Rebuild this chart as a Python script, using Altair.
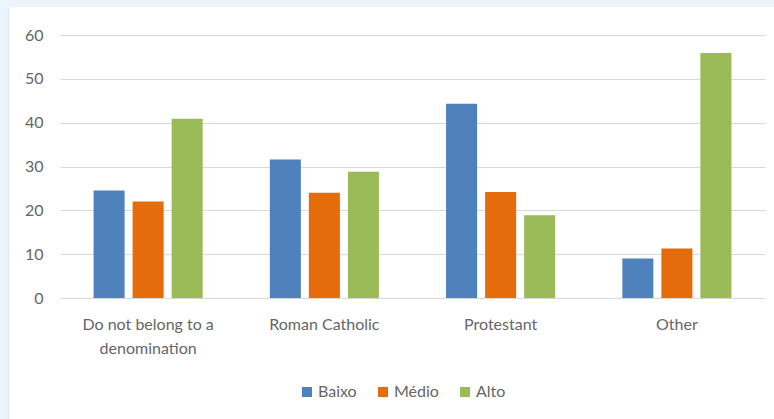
import altair as alt
import pandas as pd

categories = ["Do not belong to a denomination", "Roman Catholic", "Protestant", "Other"]
series = ["Baixo", "Médio", "Alto"]
baixo = [24.5, 31.6, 44.3, 9.0]
medio = [22.0, 24.0, 24.2, 11.3]
alto = [40.9, 28.8, 18.9, 55.9]
colors = ["#4F81BD", "#E46C0A", "#9BBB59"]

rows = []
for s, vals in zip(series, [baixo, medio, alto]):
    for c, v in zip(categories, vals):
        rows.append({"cat": c, "serie": s, "value": v})
df = pd.DataFrame(rows)

FONT = "Lato"
LABEL_COLOR = "#666666"
STRIP = "#EDF5FC"
FS = 16

one = pd.DataFrame({"a": [0]})
left_strip = alt.Chart(one).mark_rect(color=STRIP).encode(
    x=alt.value(-60), x2=alt.value(-52), y=alt.value(-35), y2=alt.value(384)
)
top_strip = alt.Chart(one).mark_rect(color=STRIP).encode(
    x=alt.value(-60), x2=alt.value(714), y=alt.value(-35), y2=alt.value(-28)
)
edge = alt.Chart(one).mark_rule(color="#E6E9EC", strokeWidth=1.5).encode(
    x=alt.value(-51.5), y=alt.value(-28), y2=alt.value(384)
)

bars = alt.Chart(df).mark_bar().encode(
    x=alt.X("cat:N", sort=categories,
            scale=alt.Scale(paddingInner=0, paddingOuter=0),
            axis=alt.Axis(title=None, labelAngle=0, ticks=False, domain=True,
                          domainColor="#D9D9D9", labelColor=LABEL_COLOR, labelFont=FONT,
                          labelFontSize=FS, labelPadding=18, labelLineHeight=24,
                          labelLimit=300,
                          labelExpr="datum.label == 'Do not belong to a denomination' ? ['Do not belong to a', 'denomination'] : datum.label")),
    xOffset=alt.XOffset("serie:N", sort=series,
                        scale=alt.Scale(paddingInner=0.205, paddingOuter=0.86)),
    y=alt.Y("value:Q", scale=alt.Scale(domain=[0, 60]),
            axis=alt.Axis(title=None, values=[0, 10, 20, 30, 40, 50, 60], grid=True,
                          gridColor="#D9D9D9", ticks=False, domain=False,
                          labelColor=LABEL_COLOR, labelFont=FONT, labelFontSize=FS,
                          labelPadding=17)),
    color=alt.Color("serie:N", sort=series,
                    scale=alt.Scale(domain=series, range=colors),
                    legend=alt.Legend(title=None, orient="none", direction="horizontal",
                                      legendX=239, legendY=349, symbolType="square",
                                      symbolSize=100, symbolStrokeWidth=0,
                                      labelFont=FONT, labelFontSize=FS, labelColor=LABEL_COLOR,
                                      columnPadding=18, labelOffset=3)),
)

chart = alt.layer(left_strip, top_strip, edge, bars).properties(
    width=705, height=263,
    autosize=alt.AutoSizeParams(type="none"),
    padding={"left": 60, "top": 35, "right": 9, "bottom": 121},
    background="white",
).configure_view(stroke=None)

chart.save("out.html", embed_options={"renderer": "svg", "actions": False})
